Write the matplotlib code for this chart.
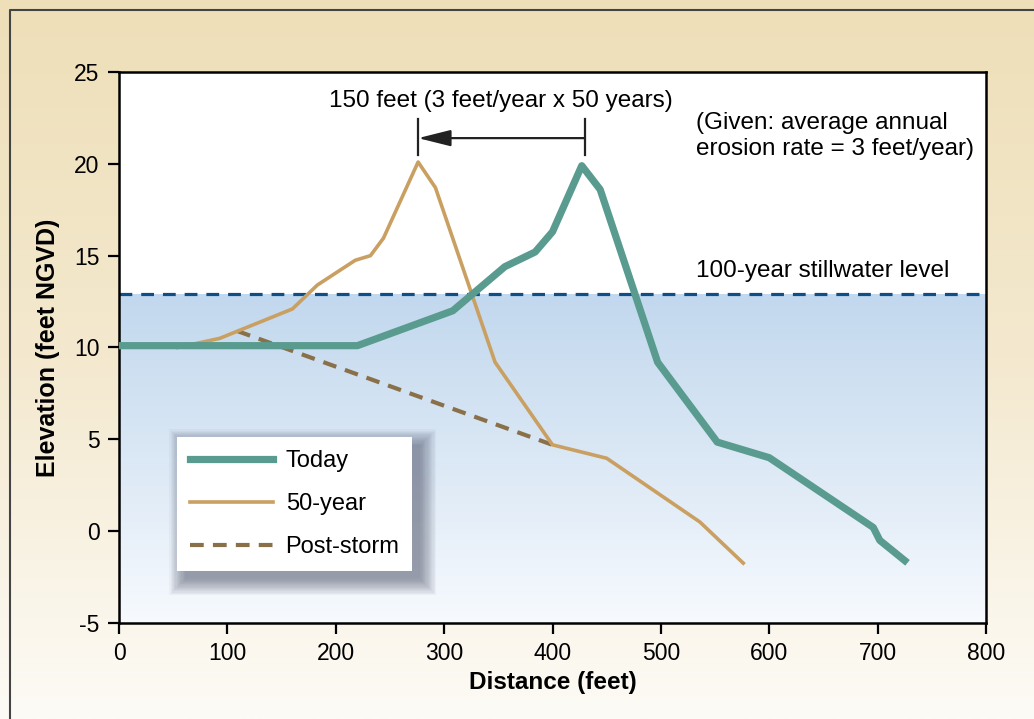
import numpy as np
import matplotlib.pyplot as plt
from matplotlib.patches import Rectangle
from matplotlib.colors import LinearSegmentedColormap

plt.rcParams['font.family'] = ['Liberation Sans', 'DejaVu Sans']
plt.rcParams['axes.unicode_minus'] = False

# perfiles de playa (distancia en pies, elevación en pies NGVD)
hoy_x = [0, 220, 308, 356, 384, 400, 427, 444, 497, 552, 600, 696, 702, 725]
hoy_y = [10.1, 10.1, 12.0, 14.4, 15.2, 16.3, 19.9, 18.6, 9.2, 4.85, 4.0, 0.2, -0.5, -1.6]

anio50_x = [54, 93, 160, 183, 218, 232, 244, 276, 292, 347, 400, 450, 536, 576]
anio50_y = [10.0, 10.5, 12.1, 13.4, 14.75, 15.0, 15.95, 20.1, 18.7, 9.2, 4.7, 3.97, 0.5, -1.74]

tormenta_x = [109, 400]
tormenta_y = [10.9, 4.7]

nivel_agua = 12.9
pico_hoy = 430
pico_50 = 276

c_hoy = '#5a9b8f'
c_50 = '#c9a061'
c_tormenta = '#8a7048'
c_agua = '#0e4f87'

fs = 16.5
fs_txt = 17.5

fig = plt.figure(figsize=(10.34, 7.19), dpi=100)

# fondo beige con degradado
bg = fig.add_axes([0, 0, 1, 1], zorder=-10)
cmap_bg = LinearSegmentedColormap.from_list('bg', ['#fdfbf6', '#f4e9cf', '#eedfb8'])
bg.imshow(np.linspace(0, 1, 256).reshape(-1, 1), aspect='auto', cmap=cmap_bg,
          extent=[0, 1, 0, 1], origin='lower')
bg.plot([10 / 1034, 10 / 1034, 1], [0, 1 - 10 / 719, 1 - 10 / 719], color='#444444', lw=1.5)
bg.set_xlim(0, 1)
bg.set_ylim(0, 1)
bg.axis('off')

ax = fig.add_axes([119 / 1034, 1 - 623 / 719, 867 / 1034, 551 / 719])
ax.set_facecolor('white')

# agua bajo el nivel de 100 años
cmap_agua = LinearSegmentedColormap.from_list('agua', ['#f7fafe', '#dbe8f5', '#c2d8ee'])
ax.imshow(np.linspace(0, 1, 256).reshape(-1, 1), aspect='auto', cmap=cmap_agua,
          extent=[0, 800, -5, nivel_agua], origin='lower', zorder=0)
ax.set_xlim(0, 800)
ax.set_ylim(-5, 25)
ax.axhline(nivel_agua, color=c_agua, lw=2.3, dashes=(4, 2.8), zorder=2)

ax.plot(tormenta_x, tormenta_y, color=c_tormenta, lw=3, dashes=(3.3, 2.2), label='Post-storm', zorder=3)
ax.plot(anio50_x, anio50_y, color=c_50, lw=2.6, label='50-year', zorder=3)
ax.plot(hoy_x, hoy_y, color=c_hoy, lw=5.2, label='Today', zorder=4)

# flecha de erosión
ax.plot([pico_50, pico_50], [20.5, 22.45], color='#222222', lw=1.6)
ax.plot([pico_hoy, pico_hoy], [20.5, 22.45], color='#222222', lw=1.6)
ax.annotate('', xy=(pico_50, 21.4), xytext=(pico_hoy, 21.4),
            arrowprops=dict(arrowstyle='-|>,head_length=2.0,head_width=0.5',
                            color='#222222', lw=1.6, shrinkA=0, shrinkB=0))
ax.text(352, 23.4, '150 feet (3 feet/year x 50 years)', ha='center', va='center', fontsize=fs_txt)
ax.text(532, 21.5, '(Given: average annual\nerosion rate = 3 feet/year)', ha='left', va='center',
        fontsize=fs_txt, linespacing=1.25)
ax.text(532, 14.15, '100-year stillwater level', ha='left', va='center', fontsize=fs_txt)

ax.set_xticks(range(0, 801, 100))
ax.set_yticks(range(-5, 26, 5))
ax.tick_params(direction='out', length=8, width=1.6, labelsize=fs, pad=6)
for s in ax.spines.values():
    s.set_linewidth(1.8)
ax.set_xlabel('Distance (feet)', fontsize=fs_txt, fontweight='bold', labelpad=4)
ax.set_ylabel('Elevation (feet NGVD)', fontsize=18, fontweight='bold', labelpad=10)

h, l = ax.get_legend_handles_labels()
orden = [2, 1, 0]
leg = ax.legend([h[i] for i in orden], [l[i] for i in orden], loc='upper left',
                bbox_to_anchor=(58 / 867, 186 / 551), borderaxespad=0, fontsize=17,
                handlelength=3.5, handletextpad=0.55, labelspacing=0.9,
                borderpad=0.55, fancybox=False, framealpha=1, edgecolor='none')
leg.set_zorder(6)

# sombra difusa de la leyenda
fig.canvas.draw()
bb = leg.get_frame().get_window_extent().transformed(ax.transAxes.inverted())
dx, dy = 8 / 867, -8 / 551
for k in range(14):
    ex, ey = k * 1.2 / 867, k * 1.2 / 551
    ax.add_patch(Rectangle((bb.x0 + dx - ex, bb.y0 + dy - ey), bb.width + 2 * ex, bb.height + 2 * ey,
                           transform=ax.transAxes, facecolor='#3a3f55', edgecolor='none',
                           alpha=0.045, zorder=5, clip_on=False))

fig.savefig('out.png', dpi=100)
